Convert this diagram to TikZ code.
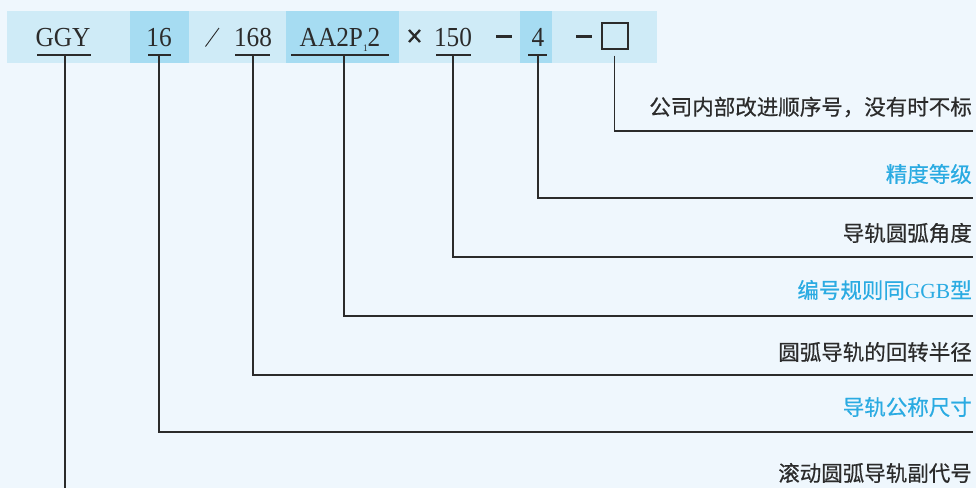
\documentclass[tikz,border=0pt]{standalone}
\usepackage{fontspec}
\setmainfont{Liberation Serif}
\newfontfamily\codefont[FakeStretch=0.92]{Liberation Serif}
\newfontfamily\cjk[FakeBold=0.5]{Noto Sans CJK SC}
\definecolor{bgc}{HTML}{EFF7FD}
\definecolor{bandl}{HTML}{CFEBF7}
\definecolor{bandd}{HTML}{A6DCF2}
\definecolor{ink}{HTML}{2B2B2B}
\definecolor{cyanlab}{HTML}{2AABE2}
\begin{document}
\begin{tikzpicture}[x=1pt,y=-1pt,
  code/.style={inner sep=0pt,anchor=base,font=\codefont\fontsize{27.5}{28}\selectfont,text=ink},
  dashbar/.style={fill=ink,inner sep=0pt,minimum width=16pt,minimum height=2.8pt},
  lab/.style={inner sep=0pt,anchor=east,font=\cjk\fontsize{21.5}{22}\selectfont,text=ink},
  blab/.style={lab,text=cyanlab},
  wire/.style={draw=ink,line width=1.4pt},
  uline/.style={draw=ink,line width=1.2pt}]
\fill[bgc] (0,0) rectangle (976,488);
\useasboundingbox (0,0) rectangle (976,488);
% band
\fill[bandl] (7,11) rectangle (657,63);
\fill[bandd] (130,11) rectangle (189,63);
\fill[bandd] (286,11) rectangle (399,63);
\fill[bandd] (520,11) rectangle (552,63);
% code parts
\node[code] (ggy) at (63,46) {GGY};
\node[code] (n16) at (159,46) {16};
\draw[ink,line width=0.9pt] (205.5,46.5) -- (219,28);
\node[code] (n168) at (253,46) {168};
\node[code] (aa) at (340,46) {AA2P\raisebox{-0.4ex}{\fontsize{10}{10}\selectfont 1}2};
\draw[ink,line width=2.3pt] (409,30) -- (420,42) (420,30) -- (409,42);
\node[code] (n150) at (453,46) {150};
\node[dashbar] (dash1) at (504,36.5) {};
\node[code] (n4) at (538,46) {4};
\node[dashbar] (dash2) at (584,36.5) {};
\node[draw=ink,line width=2pt,minimum width=26pt,minimum height=26pt,inner sep=0pt] (box) at (614.5,35.5) {};
% underlines
\draw[uline] (37,55) -- (91,55);
\draw[uline] (148,55) -- (171,55);
\draw[uline] (235,55) -- (270,55);
\draw[uline] (291,55) -- (389,55);
\draw[uline] (436,55) -- (471,55);
\draw[uline] (528,55) -- (547,55);
% labels
\node[lab] (l1) at (972,107) {公司内部改进顺序号，没有时不标};
\node[blab] (l2) at (972,174) {精度等级};
\node[lab] (l3) at (972,233) {导轨圆弧角度};
\node[blab] (l4) at (972,290) {编号规则同{\rmfamily GGB}型};
\node[lab] (l5) at (972,352) {圆弧导轨的回转半径};
\node[blab] (l6) at (972,407) {导轨公称尺寸};
\node[lab] (l7) at (972,473) {滚动圆弧导轨副代号};
% end points
\coordinate (e1) at (973,131);
\coordinate (e2) at (973,198);
\coordinate (e3) at (973,257);
\coordinate (e4) at (973,316);
\coordinate (e5) at (973,375);
\coordinate (e6) at (973,432);
\coordinate (e7) at (65,488);
% connectors
\draw[wire] ([yshift=-6pt]box.south) -- (box.south |- e1) -- (e1);
\draw[wire] (538,55) -- (538,198) -- (e2);
\draw[wire] (453,55) -- (453,257) -- (e3);
\draw[wire] (344,55) -- (344,316) -- (e4);
\draw[wire] (253,55) -- (253,375) -- (e5);
\draw[wire] (159,55) -- (159,432) -- (e6);
\draw[wire] (65,55) -- (e7);
\end{tikzpicture}
\end{document}
